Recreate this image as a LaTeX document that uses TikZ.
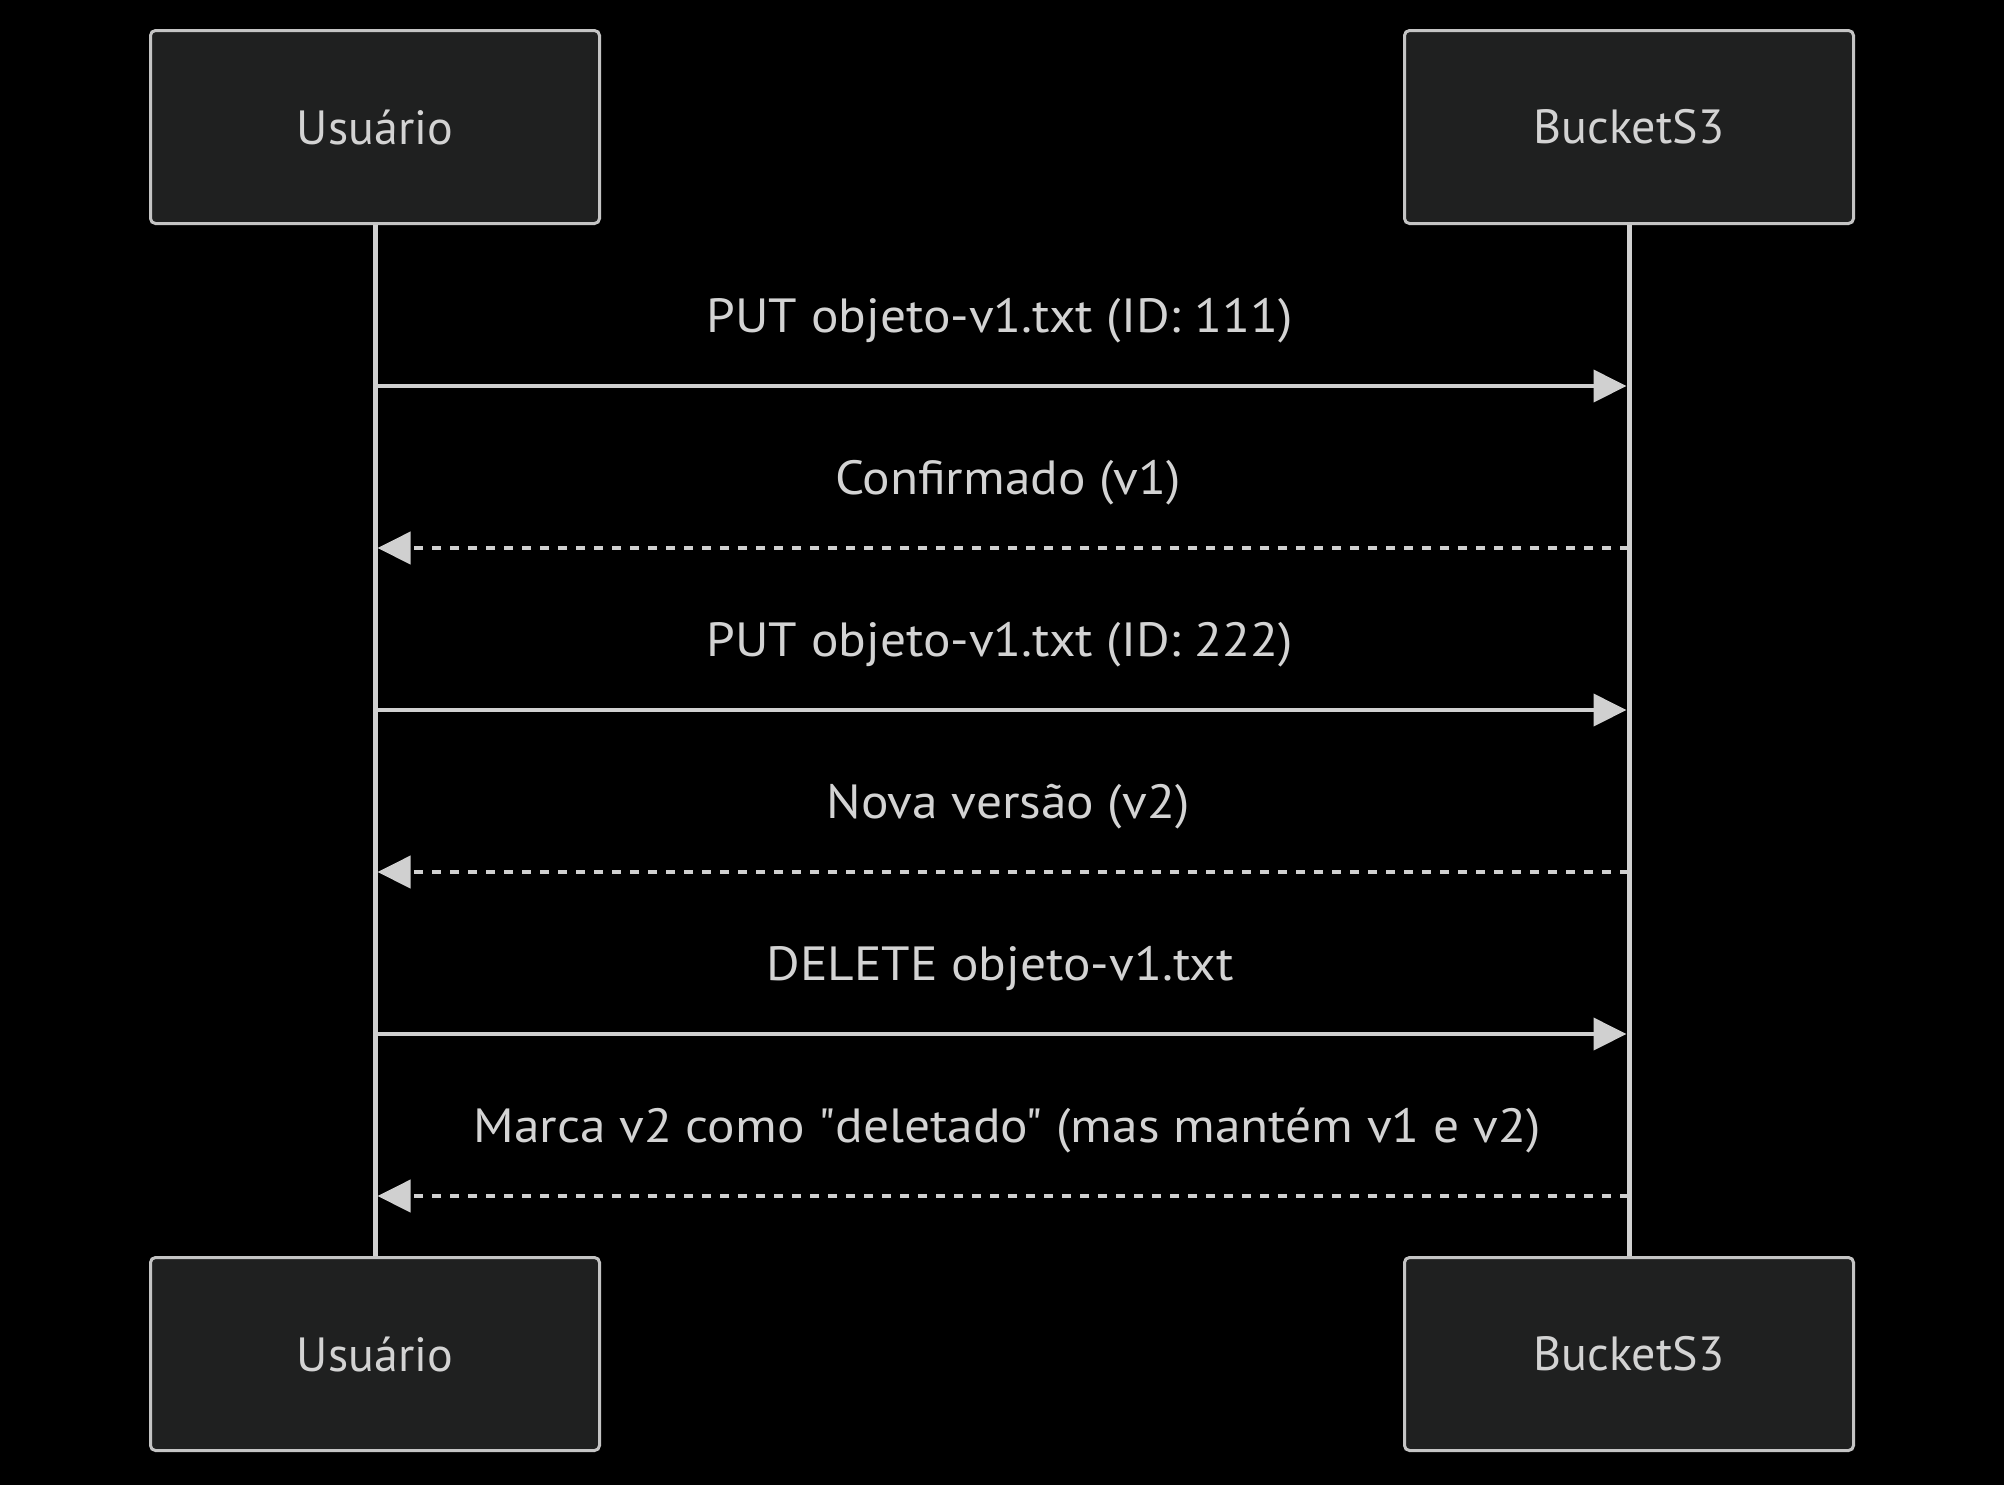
\documentclass[tikz,border=0pt]{standalone}
\usepackage{fontspec}
\setmainfont{PT Sans}
\newfontfamily\msgfamily{PT Sans}[FakeStretch=1.07, Ligatures=TeXOff]
\usetikzlibrary{arrows.meta}
\definecolor{actorfill}{HTML}{1F2020}
\definecolor{actorline}{HTML}{C4C4C4}
\definecolor{seqline}{HTML}{D0D0D0}
\definecolor{seqtext}{HTML}{D3D3D3}
\newcommand{\actorfont}{\fontsize{24}{28}\selectfont}
\newcommand{\msgfont}{\msgfamily\fontsize{24}{28}\selectfont}

\begin{document}
\begin{tikzpicture}[x=0.5pt,y=-0.5pt,
    actor/.style={draw=actorline, fill=actorfill, line width=1.5pt,
      rounded corners=2.5pt, minimum width=224.5pt, minimum height=96.5pt,
      inner sep=0pt, text=seqtext, font=\actorfont},
    label/.style={anchor=base, text=seqtext, font=\msgfont, inner sep=0pt},
    life/.style={draw=seqline, line width=2.5pt},
    call/.style={draw=seqline, line width=2pt, shorten >=1.25pt,
      -{Triangle[length=16.5pt,width=16pt,fill=seqline]}},
    reply/.style={call, dash pattern=on 4.5pt off 4.5pt}]
    \fill[black] (0,0) rectangle (2004,1485);
    \useasboundingbox (0,0) rectangle (2004,1485);

    \node[actor] (UT) at (375,127) {Usuário};
    \node[actor] (BT) at (1629,127) {BucketS3};
    \node[actor] (UB) at (375,1354) {Usuário};
    \node[actor] (BB) at (1629,1354) {BucketS3};
    \draw[life] (UT.south) -- (UB.north);
    \draw[life] (BT.south) -- (BB.north);

    \coordinate (U1) at (375,386);  \coordinate (B1) at (1629,386);
    \coordinate (U2) at (375,548);  \coordinate (B2) at (1629,548);
    \coordinate (U3) at (375,710);  \coordinate (B3) at (1629,710);
    \coordinate (U4) at (375,872);  \coordinate (B4) at (1629,872);
    \coordinate (U5) at (375,1034); \coordinate (B5) at (1629,1034);
    \coordinate (U6) at (375,1196); \coordinate (B6) at (1629,1196);

    \node[label] (M1) at (1000,332) {PUT objeto-v1.txt (ID: 111)};
    \node[label] (M2) at (1008,494) {Confirmado (v1)};
    \node[label] (M3) at (1000,656) {PUT objeto-v1.txt (ID: 222)};
    \node[label] (M4) at (1008,818) {Nova versão (v2)};
    \node[label] (M5) at (1000,980) {DELETE objeto-v1.txt};
    \node[label] (M6) at (1007,1142) {Marca v2 como "deletado" (mas mantém v1 e v2)};

    \draw[call] (U1) -- (B1);
    \draw[reply] (B2) -- (U2);
    \draw[call] (U3) -- (B3);
    \draw[reply] (B4) -- (U4);
    \draw[call] (U5) -- (B5);
    \draw[reply] (B6) -- (U6);
  \end{tikzpicture}
\end{document}
